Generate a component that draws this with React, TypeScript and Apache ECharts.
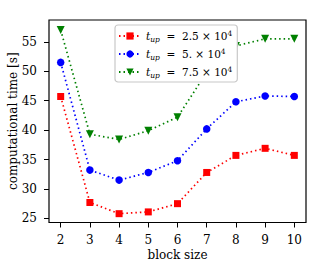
import React, { useEffect, useRef } from "react";
import * as echarts from "echarts";

const blockSizes = [2, 3, 4, 5, 6, 7, 8, 9, 10];
const yTicks = [25, 30, 35, 40, 45, 50, 55];
const series25 = [45.7, 27.7, 25.8, 26.1, 27.5, 32.8, 35.7, 36.9, 35.7];
const series50 = [51.5, 33.2, 31.5, 32.8, 34.8, 40.2, 44.8, 45.8, 45.7];
const series75 = [57.0, 39.3, 38.4, 39.9, 42.2, 49.8, 54.3, 55.5, 55.5];
const seriesNames = ["2.5", "5.", "7.5"];

const FONT = "DejaVu Serif";

export default function App() {
  const ref = useRef<HTMLDivElement>(null);
  useEffect(() => {
    const chart = echarts.init(ref.current!, undefined, { renderer: "svg" });
    const mk = (name: string, data: number[], color: string, symbol: string, size: number, rot: number) => ({
      name,
      type: "line",
      data: blockSizes.map((b, i) => [b, data[i]]),
      symbol,
      symbolSize: size,
      symbolRotate: rot,
      itemStyle: { color },
      lineStyle: { color, width: 1.7, type: [1.5, 3] },
      z: 2,
    });
    chart.setOption({
      animation: false,
      grid: {
        left: 49,
        right: 26,
        top: 20,
        bottom: 43.5,
        outerBoundsMode: "none",
        containLabel: false,
        show: true,
        borderColor: "#000",
        borderWidth: 1.2,
        backgroundColor: "transparent",
      },
      legend: {
        orient: "vertical",
        left: 115,
        top: 25,
        z: 20,
        itemWidth: 22,
        itemHeight: 9,
        itemGap: 4,
        padding: [4, 5, 3, 3],
        borderColor: "#c8c8c8",
        borderWidth: 1.2,
        borderRadius: 3,
        backgroundColor: "#fff",
        data: seriesNames,
        formatter: (n: string) => `{t|t}{sub|up}{n|  =  ${n} × 10}{sup|4}`,
        textStyle: {
          fontFamily: FONT,
          color: "#000",
          rich: {
            t: { fontFamily: FONT, fontStyle: "italic", fontSize: 10.5, lineHeight: 14 },
            sub: { fontFamily: FONT, fontStyle: "italic", fontSize: 7.5, verticalAlign: "bottom", lineHeight: 8 },
            n: { fontFamily: FONT, fontSize: 10.5, lineHeight: 14 },
            sup: { fontFamily: FONT, fontSize: 7.5, verticalAlign: "top", lineHeight: 8 },
          },
        },
      },
      xAxis: {
        type: "value",
        min: 1.6,
        max: 10.4,
        name: "block size",
        nameLocation: "middle",
        nameGap: 26,
        nameMoveOverlap: false,
        nameTextStyle: { fontFamily: FONT, fontSize: 12, color: "#000" },
        axisLine: { show: false },
        axisTick: { show: true, length: 5, inside: false, lineStyle: { color: "#000", width: 1 }, customValues: blockSizes },
        axisLabel: { fontFamily: FONT, fontSize: 12, color: "#000", margin: 11, customValues: blockSizes },
        splitLine: { show: false },
      },
      yAxis: {
        type: "value",
        min: 24.3,
        max: 58.7,
        name: "computational time [s]",
        nameLocation: "middle",
        nameGap: 30,
        nameMoveOverlap: false,
        nameTextStyle: { fontFamily: FONT, fontSize: 12, color: "#000" },
        axisLine: { show: false },
        axisTick: { show: true, length: 5, inside: false, lineStyle: { color: "#000", width: 1 }, customValues: yTicks },
        axisLabel: { fontFamily: FONT, fontSize: 12, color: "#000", margin: 12, customValues: yTicks },
        splitLine: { show: false },
      },
      series: [
        mk(seriesNames[0], series25, "#ff0000", "rect", 7, 0),
        mk(seriesNames[1], series50, "#0000ff", "circle", 7.5, 0),
        mk(seriesNames[2], series75, "#008000", "triangle", 8, 180),
      ],
    });
    return () => chart.dispose();
  }, []);
  return <div ref={ref} style={{ width: 332, height: 266, position: "absolute", left: 0, top: 0 }} />;
}
